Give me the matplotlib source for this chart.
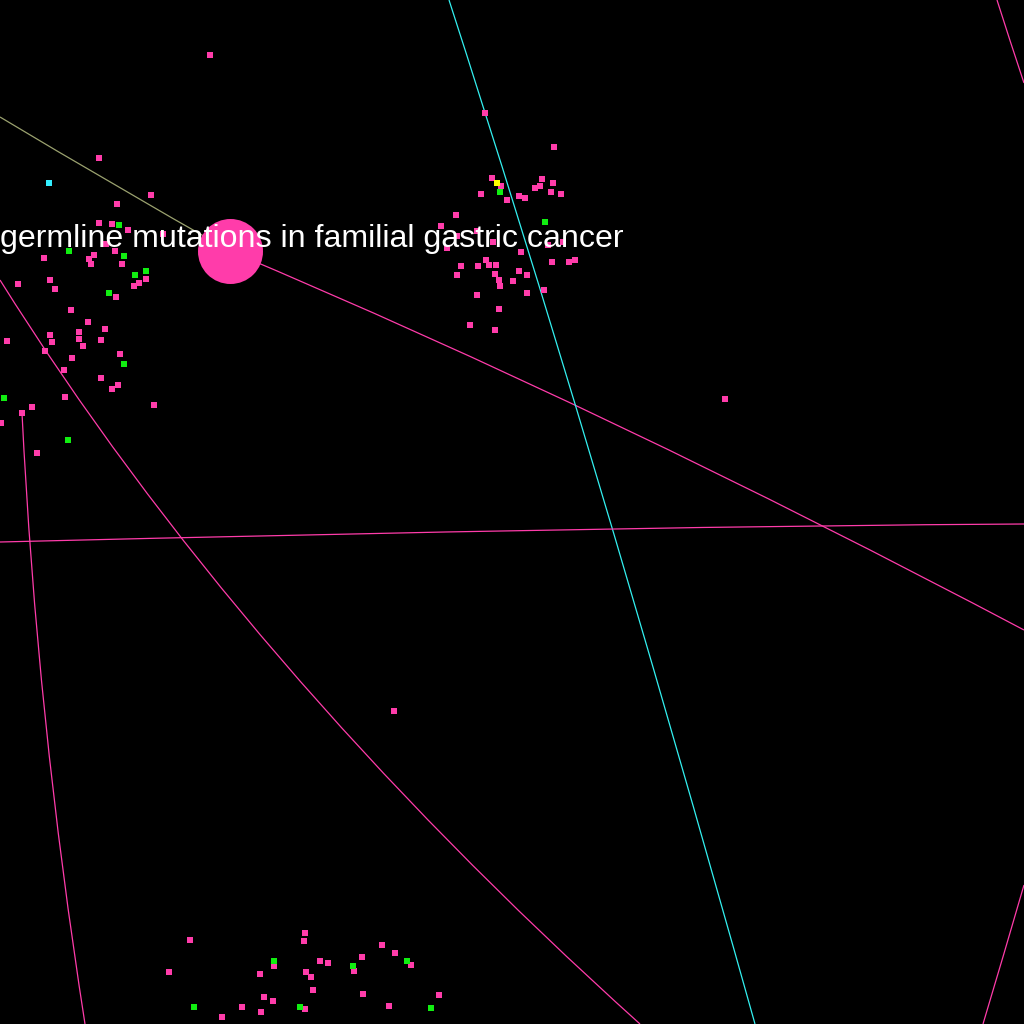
import matplotlib.pyplot as plt
from matplotlib.path import Path
from matplotlib.patches import PathPatch, Circle

# node positions in screen pixels (x right, y down)
pink_x = [210, 99, 151, 117, 99, 112, 128, 163, 106, 115, 44, 94, 89, 91, 122,
          146, 139, 134, 18, 50, 55, 116, 71, 88, 105, 79, 50, 7, 79, 52, 101,
          83, 45, 72, 120, 64, 101, 118, 112, 65, 32, 154, 22, 1, 37,
          485, 554, 492, 501, 542, 553, 535, 540, 551, 561, 481, 507, 519, 525,
          456, 441, 457, 477, 493, 447, 548, 563, 521, 552, 569, 575, 486, 461,
          478, 489, 496, 457, 495, 519, 527, 499, 500, 513, 544, 477, 527, 499,
          470, 495,
          190, 305, 304, 169, 274, 260, 320, 328, 306, 311, 313, 264, 273, 242,
          261, 222, 305, 382, 395, 362, 354, 411, 363, 389, 439,
          725, 394]
pink_y = [55, 158, 195, 204, 223, 224, 230, 234, 244, 251, 258, 255, 259, 264, 264,
          279, 283, 286, 284, 280, 289, 297, 310, 322, 329, 332, 335, 341, 339, 342, 340,
          346, 351, 358, 354, 370, 378, 385, 389, 397, 407, 405, 413, 423, 453,
          113, 147, 178, 186, 179, 183, 188, 186, 192, 194, 194, 200, 196, 198,
          215, 226, 236, 231, 242, 248, 245, 242, 252, 262, 262, 260, 260, 266,
          266, 265, 265, 275, 274, 271, 275, 280, 286, 281, 290, 295, 293, 309,
          325, 330,
          940, 933, 941, 972, 966, 974, 961, 963, 972, 977, 990, 997, 1001, 1007,
          1012, 1017, 1009, 945, 953, 957, 971, 965, 994, 1006, 995,
          399, 711]

green_x = [119, 69, 124, 146, 135, 109, 124, 4, 68, 500, 545, 274, 194, 300, 353, 407, 431]
green_y = [225, 251, 256, 271, 275, 293, 364, 398, 440, 192, 222, 961, 1007, 1007, 966, 961, 1008]

cyan_x, cyan_y = [49], [183]
yellow_x, yellow_y = [497], [183]

# edges: start, bend control, end
edge_start = [(0, 117), (230, 251), (449, 0), (0, 280), (0, 542), (22, 413), (997, 0), (1024, 885)]
edge_ctrl = [(115, 186), (610, 411), (588, 429), (240, 664), (645, 526), (37, 718), (1010, 41), (1004, 954)]
edge_end = [(230, 251), (1024, 630), (755, 1024), (640, 1024), (1024, 524), (85, 1024), (1024, 83), (983, 1024)]
edge_color = ["#9ba26f", "#ff3caa", "#33f0f0", "#ff3caa", "#ff3caa", "#ff3caa", "#ff3caa", "#ff3caa"]

hub_x, hub_y, hub_r = 230.5, 251.5, 32.5
label = "germline mutations in familial gastric cancer"

fig = plt.figure(figsize=(10.24, 10.24), dpi=100, facecolor="black")
ax = fig.add_axes([0, 0, 1, 1])
ax.set_facecolor("black")
ax.set_xlim(0, 1024)
ax.set_ylim(1024, 0)
ax.axis("off")

for s, c, e, col in zip(edge_start, edge_ctrl, edge_end, edge_color):
    path = Path([s, c, e], [Path.MOVETO, Path.CURVE3, Path.CURVE3])
    ax.add_patch(PathPatch(path, fc="none", ec=col, lw=0.9, zorder=1))

ax.scatter(pink_x, pink_y, s=18, marker="s", c="#ff3caa", linewidths=0, zorder=2)
ax.scatter(green_x, green_y, s=18, marker="s", c="#11ee11", linewidths=0, zorder=2)
ax.scatter(cyan_x, cyan_y, s=18, marker="s", c="#33eeff", linewidths=0, zorder=2)
ax.scatter(yellow_x, yellow_y, s=18, marker="s", c="#ffff00", linewidths=0, zorder=2)

ax.add_patch(Circle((hub_x, hub_y), hub_r, fc="#ff3caa", ec="none", zorder=3))

ax.text(0, 247, label, color="white", fontsize=23.1, family="Liberation Sans",
        ha="left", va="baseline", zorder=4)

fig.savefig("out.png", dpi=100, facecolor="black")
